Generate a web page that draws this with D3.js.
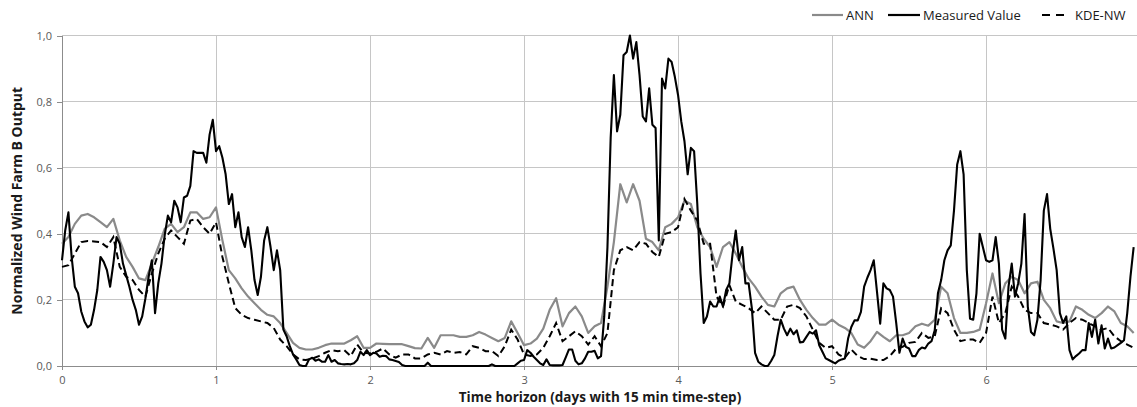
<!DOCTYPE html>
<html>
<head>
<meta charset="utf-8">
<script src="https://cdn.jsdelivr.net/npm/d3@7"></script>
<style>
  html, body { margin: 0; padding: 0; background: #fff; }
  svg { display: block; font-family: "Open Sans", "Liberation Sans", sans-serif; }
</style>
</head>
<body>
<svg id="chart" width="1137" height="407"></svg>
<script>
// Measured output, half-hourly samples (hour 0 .. 167)
const measured = [
  0.32,0.41, 0.465,0.33, 0.24,0.22, 0.165,0.135, 0.117,0.125, 0.17,0.23, 0.33,0.315, 0.29,0.24,
  0.31,0.39, 0.37,0.31, 0.275,0.24, 0.20,0.17, 0.125,0.15, 0.205,0.27, 0.32,0.16, 0.25,0.31,
  0.395,0.455, 0.435,0.50, 0.48,0.435, 0.51,0.515, 0.545,0.65, 0.645,0.645, 0.645,0.615, 0.70,0.745,
  0.65,0.665, 0.63,0.58, 0.49,0.52, 0.42,0.465, 0.39,0.36, 0.42,0.35, 0.26,0.215, 0.27,0.38,
  0.42,0.36, 0.29,0.35, 0.29,0.11, 0.09,0.06, 0.035,0.02, 0.003,0, 0,0.02, 0.025,0.016,
  0.02,0.013, 0.013,0.033, 0.013,0.018, 0.008,0.006, 0.005,0.006, 0.005,0.008, 0.018,0.043, 0.033,0.048,
  0.033,0.04, 0.038,0.028, 0.031,0.03, 0.02,0.018, 0.015,0.012, 0.003,0, 0,0, 0,0,
  0,0, 0.01,0, 0,0, 0,0, 0,0, 0,0, 0,0, 0,0,
  0,0, 0,0, 0,0, 0.005,0, 0,0, 0,0, 0,0, 0.008,0.016,
  0.018,0.048, 0.04,0.028, 0.018,0.008, 0.003,0.02, 0.003,0.002, 0.002,0.002, 0.003,0.026, 0.05,0.05,
  0.016,0.005, 0.008,0.023, 0.043,0.043, 0.046,0.023, 0.03,0.15, 0.36,0.69, 0.88,0.71, 0.76,0.94,
  0.95,1.0, 0.93,0.98, 0.88,0.755, 0.74,0.84, 0.73,0.72, 0.38,0.87, 0.84,0.93, 0.92,0.875,
  0.82,0.74, 0.68,0.58, 0.66,0.65, 0.49,0.28, 0.13,0.15, 0.195,0.18, 0.18,0.21, 0.18,0.23,
  0.25,0.34, 0.41,0.32, 0.36,0.25, 0.25,0.175, 0.04,0.013, 0.005,0, 0,0.015, 0.033,0.09,
  0.14,0.113, 0.093,0.113, 0.096,0.108, 0.071,0.073, 0.088,0.103, 0.098,0.108, 0.063,0.043, 0.023,0.018,
  0.013,0.008, 0.016,0.02, 0.023,0.083, 0.118,0.138, 0.138,0.164, 0.24,0.267, 0.29,0.32, 0.225,0.128,
  0.25,0.235, 0.23,0.21, 0.13,0.04, 0.083,0.058, 0.053,0.03, 0.03,0.048, 0.056,0.053, 0.068,0.075,
  0.108,0.22, 0.26,0.32, 0.35,0.365, 0.47,0.61, 0.65,0.58, 0.29,0.143, 0.14,0.22, 0.40,0.36,
  0.32,0.315, 0.32,0.39, 0.31,0.11, 0.083,0.24, 0.31,0.21, 0.25,0.31, 0.46,0.18, 0.103,0.093,
  0.14,0.26, 0.47,0.52, 0.415,0.355, 0.29,0.16, 0.13,0.15, 0.048,0.02, 0.03,0.038, 0.048,0.048,
  0.13,0.088, 0.14,0.068, 0.123,0.053, 0.083,0.053, 0.056,0.063, 0.07,0.078, 0.16,0.27, 0.36
];
// ANN forecast, hourly samples (hour 0 .. 167)
const ann = [
  0.37,0.39,0.43,0.455,0.46,0.45,0.435,0.42,0.445,0.38,0.33,0.30,0.265,0.26,0.31,0.36,0.415,0.43,0.405,0.42,0.465,
  0.465,0.445,0.45,0.48,0.38,0.29,0.265,0.235,0.21,0.19,0.17,0.155,0.15,0.13,0.10,0.07,0.055,0.05,0.05,0.055,0.063,
  0.068,0.068,0.068,0.078,0.09,0.055,0.055,0.068,0.067,0.066,0.066,0.066,0.06,0.054,0.053,0.085,0.055,0.093,0.093,0.093,0.088,
  0.088,0.093,0.103,0.095,0.085,0.075,0.085,0.135,0.10,0.063,0.068,0.083,0.113,0.17,0.205,0.12,0.16,0.18,0.15,0.10,0.12,
  0.13,0.24,0.375,0.55,0.495,0.55,0.50,0.385,0.375,0.35,0.42,0.43,0.45,0.50,0.49,0.42,0.385,0.36,0.30,0.36,0.375,
  0.34,0.30,0.265,0.24,0.21,0.185,0.18,0.22,0.235,0.24,0.20,0.17,0.145,0.125,0.125,0.14,0.125,0.115,0.10,0.065,0.055,
  0.075,0.103,0.088,0.075,0.093,0.093,0.10,0.12,0.128,0.122,0.14,0.24,0.22,0.145,0.10,0.10,0.103,0.11,0.19,0.28,0.19,
  0.25,0.27,0.26,0.22,0.25,0.255,0.20,0.175,0.135,0.13,0.135,0.18,0.17,0.155,0.145,0.16,0.18,0.165,0.13,0.12,0.10
];
// KDE-NW forecast, hourly samples (hour 0 .. 167)
const kdeNw = [
  0.30,0.305,0.34,0.375,0.378,0.377,0.375,0.36,0.39,0.30,0.27,0.26,0.23,0.21,0.28,0.34,0.385,0.41,0.39,0.37,0.44,
  0.445,0.42,0.40,0.435,0.33,0.25,0.175,0.155,0.145,0.14,0.135,0.13,0.115,0.08,0.06,0.035,0.02,0.018,0.022,0.03,0.04,
  0.048,0.045,0.048,0.03,0.065,0.04,0.038,0.043,0.053,0.035,0.025,0.035,0.035,0.023,0.023,0.035,0.04,0.035,0.045,0.04,0.042,
  0.035,0.06,0.055,0.045,0.045,0.03,0.06,0.11,0.08,0.035,0.03,0.035,0.055,0.09,0.13,0.075,0.09,0.105,0.09,0.065,0.09,
  0.06,0.10,0.29,0.35,0.36,0.35,0.375,0.37,0.345,0.33,0.40,0.405,0.42,0.505,0.47,0.44,0.37,0.37,0.21,0.18,0.245,
  0.195,0.185,0.175,0.16,0.18,0.16,0.14,0.14,0.18,0.185,0.175,0.15,0.11,0.07,0.055,0.06,0.035,0.025,0.05,0.03,0.021,
  0.022,0.018,0.018,0.03,0.053,0.058,0.07,0.073,0.10,0.085,0.09,0.175,0.16,0.11,0.075,0.08,0.08,0.07,0.10,0.21,0.13,
  0.16,0.24,0.21,0.17,0.16,0.16,0.13,0.125,0.12,0.11,0.13,0.145,0.14,0.13,0.12,0.11,0.115,0.09,0.075,0.065,0.055
];
const xTicks = [0, 1, 2, 3, 4, 5, 6];
const yTicks = [0, 0.2, 0.4, 0.6, 0.8, 1.0];
const seriesNames = ["ANN", "Measured Value", "KDE-NW"];

const svg = d3.select("#chart");
const margin = { left: 62, top: 35.5, right: 0, bottom: 41 };
const W = 1137, H = 407;

const x = d3.scaleLinear().domain([0, 6.98]).range([margin.left, W - margin.right]);
const y = d3.scaleLinear().domain([0, 1]).range([H - margin.bottom, margin.top]);

const fmt = d => d3.format(".1f")(d).replace(".", ",");

// grid
const grid = svg.append("g");
grid.selectAll("line.h").data(yTicks.filter(d => d > 0)).join("line")
  .attr("x1", x(0)).attr("x2", W).attr("y1", d => y(d)).attr("y2", d => y(d))
  .attr("stroke", "#c6c6c6").attr("stroke-width", 1).attr("shape-rendering", "crispEdges");
grid.selectAll("line.v").data(xTicks.filter(d => d > 0)).join("line")
  .attr("x1", d => x(d)).attr("x2", d => x(d)).attr("y1", y(1)).attr("y2", y(0))
  .attr("stroke", "#c6c6c6").attr("stroke-width", 1).attr("shape-rendering", "crispEdges");

// axes
const yAxis = svg.append("g").attr("transform", `translate(${x(0)},0)`)
  .call(d3.axisLeft(y).tickValues(yTicks).tickFormat(fmt).tickSize(5).tickPadding(5));
const xAxis = svg.append("g").attr("transform", `translate(0,${y(0)})`)
  .call(d3.axisBottom(x).tickValues(xTicks).tickFormat(d3.format("d")).tickSize(4).tickPadding(6));
[yAxis, xAxis].forEach(g => {
  g.select(".domain").attr("stroke", "#8c8c8c").attr("shape-rendering", "crispEdges");
  g.selectAll(".tick line").attr("stroke", "#8c8c8c").attr("shape-rendering", "crispEdges");
  g.selectAll(".tick text").attr("fill", "#595959").attr("font-size", 11)
    .attr("font-family", "\"Open Sans\", \"Liberation Sans\", sans-serif");
});

// series lines: forecasts are hourly, measurement half-hourly
const hourly = d3.line().x((d, i) => x(i / 24)).y(d => y(d));
const halfHourly = d3.line().x((d, i) => x(i / 48)).y(d => y(d));
const plot = svg.append("g");
plot.append("path").datum(ann).attr("d", hourly)
  .attr("fill", "none").attr("stroke", "#8a8a8a").attr("stroke-width", 2.2).attr("stroke-linejoin", "round");
plot.append("path").datum(kdeNw).attr("d", hourly)
  .attr("fill", "none").attr("stroke", "#000").attr("stroke-width", 2).attr("stroke-dasharray", "7,4");
plot.append("path").datum(measured).attr("d", halfHourly)
  .attr("fill", "none").attr("stroke", "#000").attr("stroke-width", 2.1).attr("stroke-linejoin", "round");

// axis titles
svg.append("text").attr("x", 600).attr("y", 402).attr("text-anchor", "middle")
  .attr("font-size", 13.5).attr("font-weight", "bold").attr("fill", "#1a1a1a")
  .text("Time horizon (days with 15 min time-step)");
svg.append("text").attr("transform", `translate(22,${(y(0) + y(1)) / 2}) rotate(-90)`)
  .attr("text-anchor", "middle").attr("font-size", 14).attr("font-weight", "bold").attr("fill", "#1a1a1a")
  .text("Normalized Wind Farm B Output");

// legend
const legend = svg.append("g").attr("font-size", 13).attr("fill", "#1a1a1a");
const legendItems = [
  { name: seriesNames[0], x0: 812, x1: 843, tx: 846, stroke: "#8a8a8a", dash: null },
  { name: seriesNames[1], x0: 888, x1: 920, tx: 923, stroke: "#000", dash: null },
  { name: seriesNames[2], x0: 1042, x1: 1064, tx: 1075, stroke: "#000", dash: "8,6" }
];
legendItems.forEach(it => {
  legend.append("line").attr("x1", it.x0).attr("x2", it.x1).attr("y1", 15).attr("y2", 15)
    .attr("stroke", it.stroke).attr("stroke-width", 2.2).attr("stroke-dasharray", it.dash);
  legend.append("text").attr("x", it.tx).attr("y", 19.5).text(it.name);
});
</script>
</body>
</html>
